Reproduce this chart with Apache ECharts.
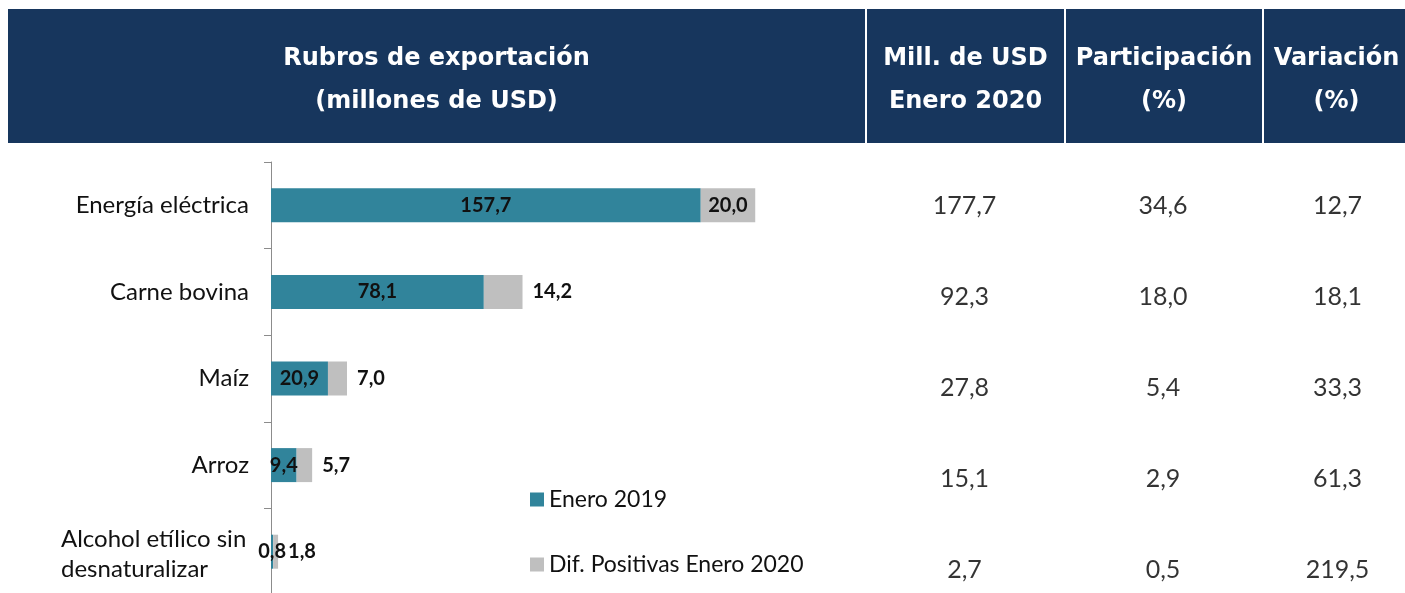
<!DOCTYPE html>
<html>
<head>
<meta charset="utf-8">
<script src="https://cdn.jsdelivr.net/npm/echarts@6/dist/echarts.min.js"></script>
<style>
html,body{margin:0;padding:0;background:#fff;}
#chart{width:1405px;height:593px;}
</style>
</head>
<body>
<div id="chart"></div>
<script>
// ---- data ----
var categories = ['Energía eléctrica', 'Carne bovina', 'Maíz', 'Arroz', 'Alcohol etílico sin\ndesnaturalizar'];
var enero2019 = [157.7, 78.1, 20.9, 9.4, 0.8];
var difPositivas = [20.0, 14.2, 7.0, 5.7, 1.8];
var millUSD2020 = [177.7, 92.3, 27.8, 15.1, 2.7];
var participacion = [34.6, 18.0, 5.4, 2.9, 0.5];
var variacion = [12.7, 18.1, 33.3, 61.3, 219.5];
var seriesNames = ['Enero 2019', 'Dif. Positivas Enero 2020'];
var headerTitles = ['Rubros de exportación\n(millones de USD)', 'Mill. de USD\nEnero 2020', 'Participación\n(%)', 'Variación\n(%)'];

// ---- helpers ----
function fmt(v) { return v.toFixed(1).replace('.', ','); }
var NAVY = '#17365D', TEAL = '#31849B', GRAY = '#BFBFBF', INK = '#111111';
var FONT = 'Lato';

var chart = echarts.init(document.getElementById('chart'));

// header layout (columns of the table band)
var headerCols = [[8, 865], [867, 1064], [1066, 1262], [1264, 1405]];
var graphic = [];
headerCols.forEach(function (c, i) {
  graphic.push({type: 'rect', shape: {x: c[0], y: 9, width: c[1] - c[0], height: 134}, style: {fill: NAVY}, z: 1});
  graphic.push({type: 'text', x: (c[0] + c[1]) / 2 + (i === 3 ? 2 : 0), y: 80, z: 2,
    style: {text: headerTitles[i], fill: '#fff', font: 'bold 24px "DejaVu Sans"', textAlign: 'center', textVerticalAlign: 'middle', lineHeight: 43}});
});

// table columns as grids
var tableCols = [
  {left: 865, width: 199, data: millUSD2020},
  {left: 1064, width: 198, data: participacion},
  {left: 1270, width: 135, data: variacion}
];

var grids = [{left: 271, width: 545, top: 162, height: 433, outerBoundsMode: 'none'}];
var xAxes = [{gridIndex: 0, type: 'value', min: 0, max: 200, show: false}];
var yAxes = [{
  gridIndex: 0, type: 'category', data: categories, inverse: true,
  axisLine: {show: true, lineStyle: {color: '#8c8c8c', width: 1}},
  axisTick: {show: true, length: 7, lineStyle: {color: '#8c8c8c'}},
  axisLabel: {
    margin: 22, color: INK, fontFamily: FONT, fontSize: 24,
    formatter: function (v) {
      if (v.indexOf('\n') >= 0) return v.split('\n').map(function (s) { return '{l|' + s + '}'; }).join('\n');
      return v;
    },
    rich: {l: {width: 188, align: 'left', fontFamily: FONT, fontSize: 24, lineHeight: 30, color: INK, padding: [6, 0, 0, 0]}}
  },
  splitLine: {show: false}
}];

var series = [
  {
    name: seriesNames[0], type: 'bar', stack: 'total', xAxisIndex: 0, yAxisIndex: 0,
    data: enero2019, barWidth: 34, itemStyle: {color: TEAL},
    label: {show: true, position: 'inside', color: INK, fontFamily: FONT, fontWeight: 'bold', fontSize: 20,
      formatter: function (p) { return fmt(p.value); }}
  },
  {
    name: seriesNames[1], type: 'bar', stack: 'total', xAxisIndex: 0, yAxisIndex: 0,
    data: difPositivas.map(function (v, i) {
      return {value: v, label: i === 0 ? {position: 'inside'} : {position: 'right', distance: 10}};
    }),
    barWidth: 34, itemStyle: {color: GRAY},
    label: {show: true, color: INK, fontFamily: FONT, fontWeight: 'bold', fontSize: 20,
      formatter: function (p) { return fmt(p.value); }}
  }
];

tableCols.forEach(function (tc, k) {
  var gi = k + 1;
  grids.push({left: tc.left, width: tc.width, top: 160, height: 455, outerBoundsMode: 'none'});
  xAxes.push({gridIndex: gi, type: 'value', min: 0, max: 1, show: false});
  yAxes.push({gridIndex: gi, type: 'category', data: categories, inverse: true, show: false});
  series.push({
    type: 'scatter', xAxisIndex: gi, yAxisIndex: gi, symbolSize: 0, silent: true,
    data: tc.data.map(function (v, i) { return {value: [0.5, categories[i]], raw: v}; }),
    label: {show: true, position: 'inside', color: '#000', fontFamily: FONT, fontSize: 25,
      formatter: function (p) { return fmt(p.data.raw); }}
  });
});

chart.setOption({
  backgroundColor: '#fff',
  animation: false,
  grid: grids,
  xAxis: xAxes,
  yAxis: yAxes,
  graphic: graphic,
  legend: {
    data: seriesNames, orient: 'vertical', left: 525, top: 483,
    icon: 'rect', itemWidth: 14, itemHeight: 14, itemGap: 42, itemTextGap: 11,
    textStyle: {color: INK, fontFamily: FONT, fontSize: 23}
  },
  series: series
});
</script>
</body>
</html>
